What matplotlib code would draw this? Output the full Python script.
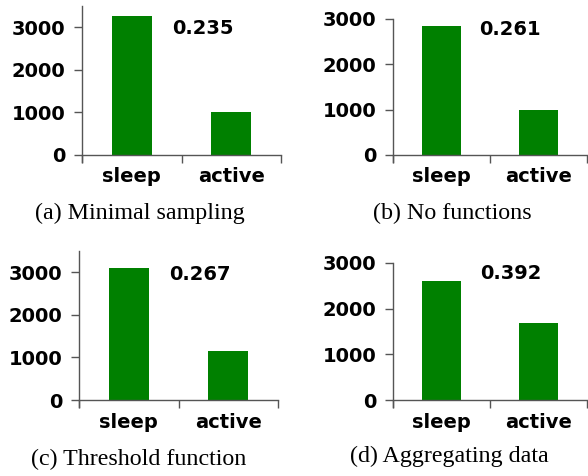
import numpy as np
import matplotlib
matplotlib.use("Agg")
import matplotlib.pyplot as plt

states = ["sleep", "active"]
captions = ["(a) Minimal sampling", "(b) No functions",
            "(c) Threshold function", "(d) Aggregating data"]
sleep_counts = [3260, 2850, 3110, 2600]
active_counts = [1000, 1000, 1140, 1680]
ratios = ["0.235", "0.261", "0.267", "0.392"]
y_tops = [3500, 3000, 3500, 3000]

W, H = 588, 476
fig = plt.figure(figsize=(W / 100, H / 100), dpi=100)

# axes boxes in pixels: left, right, bottom, top (from top of image)
boxes = [(82, 281, 155, 6), (393, 587, 155, 19),
         (79, 278, 400, 251), (393, 587, 400, 263)]
cap_pos = [(140, 213), (452, 213), (139, 459), (449, 456)]
text_y = [2980, 2760, 2950, 2760]

spine_col = "#555555"
for i in range(4):
    l, r, b, t = boxes[i]
    ax = fig.add_axes([l / W, 1 - b / H, (r - l) / W, (b - t) / H])
    x = np.array([0.5, 1.5])
    ax.bar(x, [sleep_counts[i], active_counts[i]], width=0.4, color="#008000")
    ax.set_xlim(0, 2)
    ax.set_ylim(0, y_tops[i])
    for s in ["top", "right"]:
        ax.spines[s].set_visible(False)
    for s in ["left", "bottom"]:
        ax.spines[s].set_color(spine_col)
        ax.spines[s].set_linewidth(1)
    ax.set_xticks([0, 1, 2])
    ax.set_xticklabels([])
    ax.set_xticks(x, minor=True)
    ax.set_xticklabels(states, minor=True, fontsize=14, fontweight="bold")
    ax.tick_params(axis="x", which="major", length=6, width=1, color=spine_col, direction="out")
    ax.tick_params(axis="x", which="minor", length=0, pad=9)
    ax.set_yticks([0, 1000, 2000, 3000])
    ax.set_yticklabels(["0", "1000", "2000", "3000"], fontsize=14, fontweight="bold")
    ax.tick_params(axis="y", length=6, width=1, color=spine_col, pad=6)
    ax.spines["left"].set_bounds(-0.05 * y_tops[i], y_tops[i])
    ax.text(1.21, text_y[i], ratios[i], ha="center", va="center",
            fontsize=14, fontweight="bold")
    cx, cy = cap_pos[i]
    fig.text(cx / W, 1 - cy / H, captions[i], ha="center", va="center",
             fontsize=17.3, family="Liberation Serif")

fig.savefig("out.png", dpi=100)
